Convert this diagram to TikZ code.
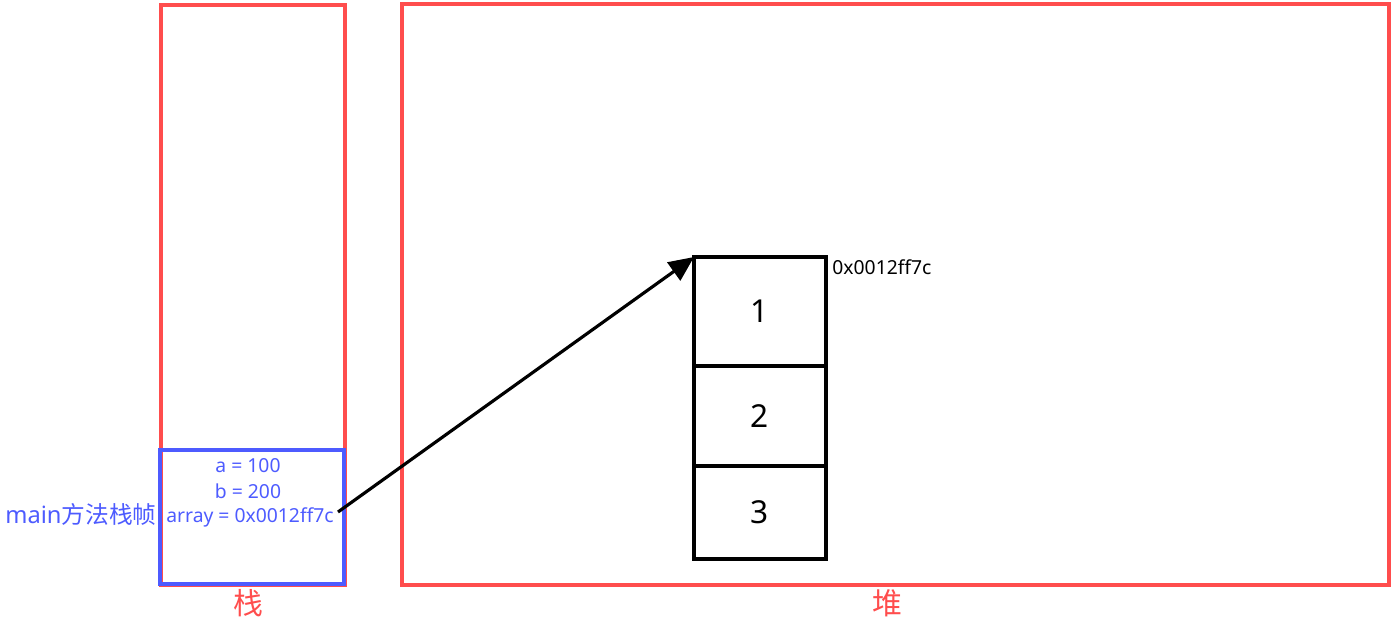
\documentclass[tikz,border=0pt]{standalone}
\usepackage{fontspec}
\setmainfont{Noto Sans}
\newfontfamily\cjk{Noto Sans CJK SC}
\usetikzlibrary{arrows.meta}
\definecolor{memred}{RGB}{255,77,77}
\definecolor{frameblue}{RGB}{77,91,255}
\tikzstyle{area}=[draw = memred, line width = 1.8pt]
\tikzstyle{frame}=[draw = frameblue, line width = 2pt]
\tikzstyle{var}=[text = frameblue, font = \fontsize{11}{13}\selectfont, inner sep = 0pt]
\tikzstyle{cell}=[draw, line width = 2pt, minimum width = 132*0.02cm, inner sep = 0pt, outer sep = 0pt, font = \fontsize{18}{20}\selectfont]
\tikzstyle{title}=[text = memred, font = \fontsize{17}{19}\selectfont\cjk, inner sep = 0pt]

\begin{document}
\begin{tikzpicture}[x = 0.02cm, y = -0.02cm]
  \useasboundingbox (0,0) rectangle (1395,626);
  \draw[area] (161,5) rectangle (345,585);
  \draw[area] (402,4) rectangle (1389,585);
  \draw[frame] (160,450) rectangle (344,584);
  \node[var] (a) at (248,466) {a = 100};
  \node[var] (b) at (248,491) {b = 200};
  \node[var] (arr) at (250,517) {array = 0x0012ff7c};
  \node[var, font = \fontsize{13.5}{15}\selectfont, anchor = west] (frm) at (5,514) {main{\cjk 方法栈帧}};
  \node[title] (stk) at (248,603) {栈};
  \node[title] (hp) at (887,603) {堆};
  \node[cell, minimum height = 109*0.02cm, anchor = north west] (c1) at (694,257) {1};
  \node[cell, minimum height = 100*0.02cm, anchor = north west] (c2) at (c1.south west) {2};
  \node[cell, minimum height = 93*0.02cm, anchor = north west] (c3) at (c2.south west) {3};
  \node[inner sep = 0pt, font = \fontsize{11}{13}\selectfont, anchor = west] (addr) at (832,267) {0x0012ff7c};
  \coordinate (ref) at (338,512);
  \draw[line width = 1.8pt, -{Triangle[length = 0.5cm, width = 0.44cm]}] (ref) -- (c1.north west);
\end{tikzpicture}
\end{document}
